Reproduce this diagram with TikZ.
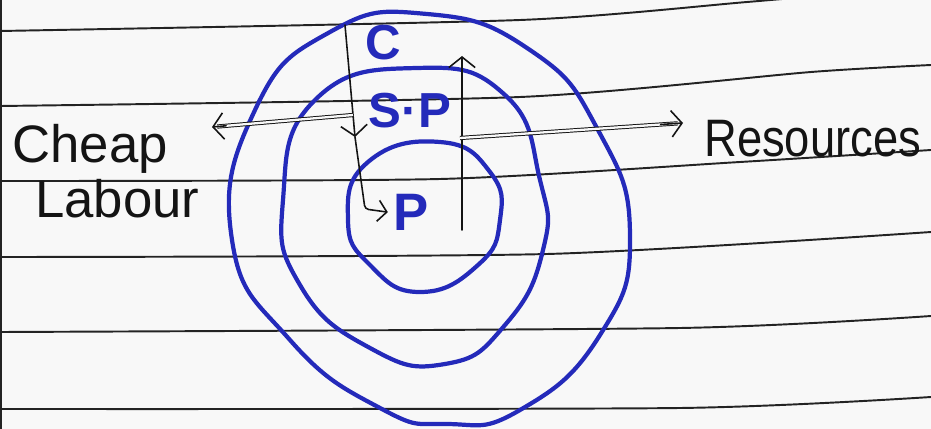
\documentclass[tikz,border=0pt]{standalone}
\usepackage{fontspec}
\setmainfont{Liberation Sans}
\usepackage{graphicx}
\usetikzlibrary{arrows.meta,calc}
\definecolor{pen}{RGB}{36,42,186}
\definecolor{ink}{RGB}{20,20,20}
\definecolor{paper}{RGB}{248,248,248}
\definecolor{rulecol}{RGB}{35,35,35}
\tikzset{
  ring/.style={draw=pen, line width=2.4pt, line join=round},
  ruled/.style={draw=rulecol, line width=1.1pt},
  inkline/.style={draw=ink, line width=0.9pt, line cap=round, line join=round},
  hollow/.style={draw=ink, line width=0.55pt, double=paper, double distance=1.3pt},
  barbtip/.style={-{Straight Barb[length=6pt,width=15pt]}},
  bluetxt/.style={text=pen, font=\bfseries\fontsize{28}{30}\selectfont, inner sep=0pt},
  handtxt/.style={text=ink, font=\fontsize{30}{32}\selectfont, inner sep=0pt}
}
\begin{document}
\begin{tikzpicture}[x=0.02cm, y=-0.02cm]
\useasboundingbox (0,0) rectangle (931,429);
\fill[paper] (0,0) rectangle (931,429);
\clip (0,0) rectangle (931,429);

% ruled paper lines
\draw[ruled] plot[smooth, tension=0.4] coordinates {(0,31) (520,20) (747,2) (931,-14)};
\draw[ruled] plot[smooth, tension=0.4] coordinates {(0,106) (520,97) (811,72) (931,65)};
\draw[ruled] plot[smooth, tension=0.4] coordinates {(0,181) (440,179) (740,162) (931,150)};
\draw[ruled] plot[smooth, tension=0.4] coordinates {(0,257) (547,254) (931,232)};
\draw[ruled] plot[smooth, tension=0.4] coordinates {(0,332) (680,328) (931,316)};
\draw[ruled] plot[smooth, tension=0.4] coordinates {(0,409) (680,408) (931,397)};
\draw[draw=rulecol, line width=1.4pt] (1,0) -- (1,429);

% rings
\draw[ring] plot[smooth cycle, tension=0.85] coordinates {(427,14) (530,50) (598,130) (630,235) (600,335) (520,410) (447,424) (380,408) (290,340) (232,240) (255,110) (330,32)};
\draw[ring] plot[smooth cycle, tension=0.85] coordinates {(417,68) (505,95) (540,180) (543,250) (505,325) (445,364) (370,348) (300,285) (283,200) (315,100)};
\draw[ring] plot[smooth cycle, tension=0.85] coordinates {(440,142) (490,172) (500,220) (478,265) (420,292) (370,265) (348,220) (368,162)};

% labels
\node[bluetxt, anchor=base] (C) at (383,60) {C};
\node[bluetxt, anchor=base] (SP) at (410,128) {S·P};
\node[bluetxt, anchor=base, font=\bfseries\fontsize{30}{31}\selectfont] (P) at (411,231) {P};
\node[handtxt, anchor=base west] (cheap) at (12,163) {Cheap};
\node[handtxt, anchor=base west] (labour) at (35,218) {Labour};
\node[handtxt, anchor=base west] (res) at (704,157) {\scalebox{0.86}[1]{Resources}};

% connector coordinates
\coordinate (vtop) at (345,25);
\coordinate (vmid) at (355,137);
\coordinate (vbot) at (365,209);
\coordinate (ubot) at (462,230);
\coordinate (utop) at (462,56);
\coordinate (lstart) at (353,115);
\coordinate (lend) at (212,127);
\coordinate (rstart) at (460,138);
\coordinate (rend) at (683,123);

% vertical arrow down into P
\draw[inkline, barbtip] (vtop) -- (vmid);
\draw[inkline, rounded corners=2pt, -{Straight Barb[length=5pt,width=12pt]}, shorten >=3pt] (vmid) -- (vbot) -- (P.west);
% upward arrow
\draw[inkline, barbtip] (ubot) -- (utop);
% hollow arrows
\draw[hollow, shorten >=3pt] (lstart) -- (lend);
\draw[inkline, barbtip] ($(lstart)!0.9!(lend)$) -- (lend);
\draw[hollow, shorten >=3pt] (rstart) -- (rend);
\draw[inkline, barbtip] ($(rstart)!0.9!(rend)$) -- (rend);
\end{tikzpicture}
\end{document}
